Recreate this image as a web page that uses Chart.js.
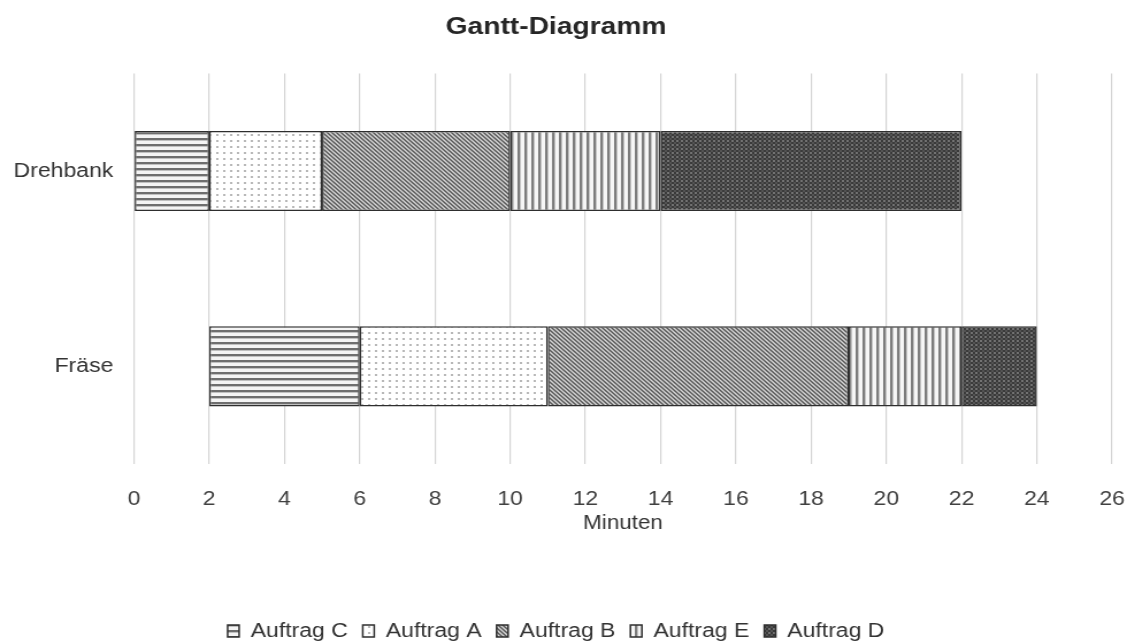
<!DOCTYPE html>
<html>
<head>
<meta charset="utf-8">
<script src="https://cdn.jsdelivr.net/npm/chart.js@4"></script>
<style>
  html, body { margin: 0; padding: 0; background: #fff; overflow: hidden; }
  #wrap { width: 1131px; height: 644px; }
  /* the drawing is laid out on a narrower canvas and widened to the page width */
  #c { transform: scaleX(1.15); transform-origin: 0 0; }
</style>
</head>
<body>
<div id="wrap"><canvas id="c" width="984" height="644"></canvas></div>
<script>
// Machines (rows) and the time slot [start, end] in minutes of each order on them
const machines = ['Drehbank', 'Fräse'];
const auftragC = [[0, 2], [2, 6]];
const auftragA = [[2, 5], [6, 11]];
const auftragB = [[5, 10], [11, 19]];
const auftragE = [[10, 14], [19, 22]];
const auftragD = [[14, 22], [22, 24]];
const xMax = 26;
const xStep = 2;

// Small tiled fills for each order
function tile(w, h, draw) {
  const c = document.createElement('canvas');
  c.width = w; c.height = h;
  const g = c.getContext('2d');
  draw(g, w, h);
  return document.getElementById('c').getContext('2d').createPattern(c, 'repeat');
}
const patHorizontal = tile(6, 6, (g, w, h) => {
  g.fillStyle = '#f4f4f4'; g.fillRect(0, 0, w, h);
  g.fillStyle = '#6e6e6e'; g.fillRect(0, 0, w, 2);
  g.fillStyle = '#c0c0c0'; g.fillRect(0, 2, w, 1);
});
const patDots = tile(6, 6, (g, w, h) => {
  g.fillStyle = '#ffffff'; g.fillRect(0, 0, w, h);
  g.fillStyle = '#b8b8b8'; g.fillRect(2, 2, 2, 2);
});
const patDiagonal = tile(4, 4, (g, w, h) => {
  g.fillStyle = '#d8d8d8'; g.fillRect(0, 0, w, h);
  g.strokeStyle = '#555555'; g.lineWidth = 1.4;
  g.beginPath();
  g.moveTo(-1, -1); g.lineTo(w + 1, h + 1);
  g.moveTo(-1, h - 1); g.lineTo(1, h + 1);
  g.moveTo(w - 1, -1); g.lineTo(w + 1, 1);
  g.stroke();
});
const patVertical = tile(6, 6, (g, w, h) => {
  g.fillStyle = '#f6f6f6'; g.fillRect(0, 0, w, h);
  g.fillStyle = '#7c7c7c'; g.fillRect(0, 0, 2, h);
  g.fillStyle = '#c4c4c4'; g.fillRect(2, 0, 1, h);
});
const patDark = tile(4, 4, (g, w, h) => {
  g.fillStyle = '#3a3a3a'; g.fillRect(0, 0, w, h);
  g.fillStyle = '#727272'; g.fillRect(0, 0, 2, 2);
  g.fillStyle = '#535353'; g.fillRect(2, 2, 2, 2);
});

const border = '#2e2e2e';
function ds(label, data, fill) {
  return {
    label, data,
    backgroundColor: fill,
    borderColor: border,
    borderWidth: 1.5,
    borderSkipped: false,
    categoryPercentage: 1,
    barPercentage: 0.41
  };
}

const font = 'Liberation Sans, Arial, sans-serif';

new Chart(document.getElementById('c'), {
  type: 'bar',
  data: {
    labels: machines,
    datasets: [
      ds('Auftrag C', auftragC, patHorizontal),
      ds('Auftrag A', auftragA, patDots),
      ds('Auftrag B', auftragB, patDiagonal),
      ds('Auftrag E', auftragE, patVertical),
      ds('Auftrag D', auftragD, patDark)
    ]
  },
  options: {
    indexAxis: 'y',
    responsive: false,
    animation: false,
    layout: { padding: { left: 0, right: 17, top: 0, bottom: -7 } },
    scales: {
      x: {
        min: 0, max: xMax,
        ticks: { stepSize: xStep, color: '#404040', font: { family: font, size: 20 }, padding: 23 },
        grid: { color: '#d4d4d4', lineWidth: 1.2, drawTicks: false },
        border: { display: false },
        title: { display: true, text: 'Minuten', color: '#333', font: { family: font, size: 19.5 }, padding: { top: 1, bottom: 73 } },
        afterFit: s => { s.height = 144; s.paddingLeft = 0; s.paddingRight = 0; }
      },
      y: {
        stacked: true,
        ticks: { color: '#333', font: { family: font, size: 20 }, padding: 10 },
        grid: { display: false },
        border: { display: false },
        afterFit: s => { s.width = 116.5; }
      }
    },
    plugins: {
      title: {
        display: true, text: 'Gantt-Diagramm', color: '#262626',
        font: { family: font, size: 24.5, weight: 'bold' },
        padding: { top: 13, bottom: 31 }
      },
      legend: {
        position: 'bottom',
        labels: {
          color: '#333',
          font: { family: font, size: 20 },
          boxWidth: 10, boxHeight: 12, padding: 13
        }
      },
      tooltip: { enabled: false }
    }
  }
});
</script>
</body>
</html>
